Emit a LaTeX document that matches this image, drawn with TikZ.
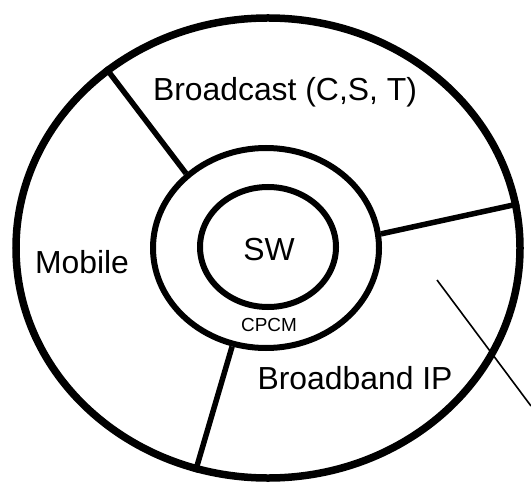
\documentclass[tikz,border=0pt]{standalone}
\usepackage{fontspec}
\setmainfont{Liberation Sans}
\usetikzlibrary{shapes.geometric}

\tikzset{
	ring/.style={draw, ellipse, inner sep=0pt, line width=6bp},
	divider/.style={line width=5.5bp},
	label/.style={font=\fontsize{32}{34}\selectfont}
}

\begin{document}
\begin{tikzpicture}[x=1bp, y=-1bp]
		% Fixing the page to the size of the reference
		\useasboundingbox (0,0) rectangle (531,485);
		% The three rings, from the outside in
		\node[ring, line width=7.5bp, minimum width=504bp, minimum height=460bp]
			(outer) at (268,248) {};
		\node[ring, minimum width=226bp, minimum height=200bp] (cpcm) at (266,248) {};
		\node[ring, minimum width=136bp, minimum height=120bp] (sw) at (268,247) {};
		% Splitting the outer ring into its three sectors
		\draw[divider] (cpcm.137) -- (outer.132.6);
		\draw[divider] (cpcm.7.3) -- (outer.10.1);
		\draw[divider] (cpcm.251.7) -- (outer.252);
		% The thin stroke crossing the right-hand side
		\coordinate (Stroke Start) at (437,280);
		\coordinate (Stroke End) at (531,406);
		\draw[line width=1.6bp] (Stroke Start) -- (Stroke End);
		% Labels
		\node[label] (broadcast) at (285,92) {Broadcast (C,S, T)};
		\node[label] (mobile) at (82,262) {Mobile};
		\node[label] (swlabel) at (269,250) {SW};
		\node[font=\fontsize{19}{21}\selectfont] (cpcmlabel) at (269,325) {CPCM};
		\node[label] (broadband) at (355,378) {Broadband IP};
	\end{tikzpicture}
\end{document}
